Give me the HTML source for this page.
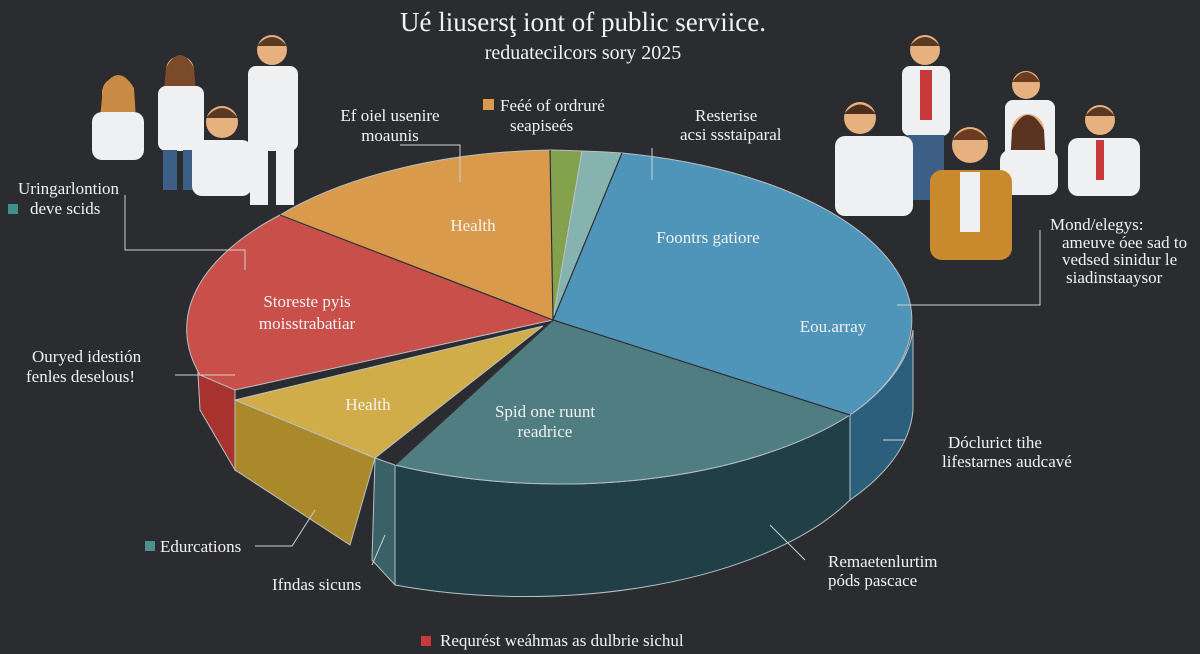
<!DOCTYPE html>
<html><head><meta charset="utf-8"><style>
html,body{margin:0;padding:0;background:#2a2c2f;}
svg{display:block}
text{font-family:"Liberation Serif",serif;fill:#f2f2f2}
</style></head><body>
<svg width="1200" height="654" viewBox="0 0 1200 654" xmlns="http://www.w3.org/2000/svg">
<rect width="1200" height="654" fill="#2a2c2f"/>
<text x="583" y="31" font-size="27" text-anchor="middle">Ué liusersţ iont of public serviice.</text>
<text x="583" y="59" font-size="20" text-anchor="middle">reduatecilcors sory 2025</text>

<g>
 <circle cx="118" cy="93" r="16" fill="#e7b07f"/><path d="M103,88 Q118,62 134,88 L136,120 L100,118Z" fill="#c98a45"/>
 <rect x="92" y="112" width="52" height="48" rx="10" fill="#eef0f2"/>
 <circle cx="180" cy="70" r="14" fill="#e7b07f"/><path d="M166,68 Q180,42 194,68 L196,92 L164,90Z" fill="#7a4a2a"/>
 <rect x="158" y="86" width="46" height="65" rx="8" fill="#eef0f2"/><rect x="163" y="150" width="14" height="40" fill="#3e5f85"/><rect x="183" y="150" width="14" height="40" fill="#3e5f85"/>
 <circle cx="272" cy="50" r="15" fill="#e7b07f"/><path d="M257,46 Q272,28 287,46Z" fill="#5a3a22"/>
 <rect x="248" y="66" width="50" height="85" rx="8" fill="#eef0f2"/><rect x="250" y="150" width="18" height="55" fill="#eef0f2"/><rect x="276" y="150" width="18" height="55" fill="#eef0f2"/>
 <circle cx="222" cy="122" r="16" fill="#e7b07f"/><path d="M206,118 Q222,98 238,118Z" fill="#5a3a22"/>
 <rect x="192" y="140" width="60" height="56" rx="10" fill="#eef0f2"/>
</g>
<g>
 <circle cx="925" cy="50" r="15" fill="#e7b07f"/><path d="M910,46 Q925,28 940,46Z" fill="#5a3a22"/>
 <rect x="902" y="66" width="48" height="70" rx="8" fill="#eef0f2"/><rect x="920" y="70" width="12" height="50" fill="#c9393a"/>
 <rect x="908" y="135" width="36" height="65" fill="#3e5f85"/>
 <circle cx="860" cy="118" r="16" fill="#e7b07f"/><path d="M844,114 Q860,95 876,114Z" fill="#4a2e1e"/>
 <rect x="835" y="136" width="78" height="80" rx="10" fill="#eef0f2"/>
 <circle cx="1026" cy="85" r="14" fill="#e7b07f"/><path d="M1012,82 Q1026,62 1040,82Z" fill="#6b3c22"/>
 <rect x="1005" y="100" width="50" height="60" rx="8" fill="#eef0f2"/>
 <circle cx="1100" cy="120" r="15" fill="#e7b07f"/><path d="M1085,116 Q1100,98 1115,116Z" fill="#5a3a22"/>
 <rect x="1068" y="138" width="72" height="58" rx="10" fill="#eef0f2"/><rect x="1096" y="140" width="8" height="40" fill="#c9393a"/>
 <circle cx="1028" cy="130" r="16" fill="#e7b07f"/><path d="M1012,130 Q1028,100 1044,130 L1046,165 L1010,165Z" fill="#5a3420"/>
 <rect x="1000" y="150" width="58" height="45" rx="10" fill="#eef0f2"/>
 <circle cx="970" cy="145" r="18" fill="#e7b07f"/><path d="M952,140 Q970,118 988,140Z" fill="#6b3c22"/>
 <rect x="930" y="170" width="82" height="90" rx="12" fill="#c98a2e"/><rect x="960" y="172" width="20" height="60" fill="#eef0f2"/>
</g>

<g stroke="#b9c0c4" stroke-width="1">
<path d="M395,465 A360,170 0 0 0 850,415 L850,500 A360,170 0 0 1 395,585 Z" fill="#203f46"/>
<path d="M850,415 A360,170 0 0 0 913,330 L913,410 A360,170 0 0 1 850,500 Z" fill="#2c5f7c"/>
<path d="M195,320 L235,390 L235,470 L200,410 Z" fill="#a8332e"/>
<path d="M235,400 L375,458 L350,545 L235,470 Z" fill="#a9892a"/>
<path d="M375,458 L395,465 L395,585 L372,560 Z" fill="#3a6068"/>

<path d="M553,320 L280,215 A360,170 0 0 1 550,150 Z" fill="#d99a4c"/>
<path d="M553,320 L550,150 A360,170 0 0 1 582,151 Z" fill="#84a24e"/>
<path d="M553,320 L582,151 A360,170 0 0 1 622,153 Z" fill="#86b3b0"/>
<path d="M553,320 L622,153 A360,170 0 0 1 850,415 Z" fill="#4f94b9"/>
<path d="M553,320 L850,415 A360,170 0 0 1 395,465 Z" fill="#4f7d82"/>
<path d="M553,320 L280,215 A360,170 0 0 0 200,375 L235,390 Z" fill="#c9504a"/>
<path d="M543,326 L235,400 L375,458 Z" fill="#d0ad48"/>
</g>
<g stroke="#2a2c2f" stroke-width="1.2" fill="none">
<path d="M553,320 L280,215 M553,320 L550,150 M553,320 L622,153 M553,320 L850,415 M553,320 L395,465"/>
</g>

<g font-size="17" text-anchor="middle">
<text x="473" y="231">Health</text>
<text x="708" y="243">Foontrs gatiore</text>
<text x="833" y="332">Eou.array</text>
<text x="307" y="307">Storeste pyis</text>
<text x="307" y="329">moisstrabatiar</text>
<text x="368" y="410">Health</text>
<text x="545" y="417">Spid one ruunt</text>
<text x="545" y="437">readrice</text>
</g>

<g stroke="#cfcfcf" stroke-width="1" fill="none">
<path d="M125,195 L125,250 L245,250 L245,270"/>
<path d="M400,145 L460,145 L460,182"/>
<path d="M652,148 L652,180"/>
<path d="M1040,230 L1040,305 L897,305"/>
<path d="M175,375 L235,375"/>
<path d="M883,440 L905,440"/>
<path d="M255,546 L292,546 L315,510"/>
<path d="M372,565 L385,535"/>
<path d="M770,525 L805,560"/>
</g>
<g font-size="17">
<text x="18" y="194">Uringarlontion</text>
<text x="30" y="214">deve scids</text>
<rect x="8" y="204" width="10" height="10" fill="#3f8f8a"/>
<text x="390" y="121" text-anchor="middle">Ef oiel usenire</text>
<text x="390" y="141" text-anchor="middle">moaunis</text>
<rect x="483" y="99" width="11" height="11" fill="#d99a4c"/>
<text x="500" y="111">Feéé of ordruré</text>
<text x="510" y="131">seapiseés</text>
<text x="695" y="121">Resterise</text>
<text x="680" y="140">acsi ssstaiparal</text>
<text x="1050" y="230">Mond/elegys:</text>
<text x="1062" y="248">ameuve óee sad to</text>
<text x="1062" y="265">vedsed sinidur le</text>
<text x="1066" y="283">siadinstaaysor</text>
<text x="32" y="362">Ouryed idestión</text>
<text x="26" y="382">fenles deselous!</text>
<text x="948" y="448">Dóclurict tihe</text>
<text x="942" y="467">lifestarnes audcavé</text>
<rect x="145" y="541" width="10" height="10" fill="#4f8f8f"/>
<text x="160" y="552">Edurcations</text>
<text x="272" y="590">Ifndas sicuns</text>
<text x="828" y="567">Remaetenlurtim</text>
<text x="828" y="586">póds  pascace</text>
<rect x="421" y="636" width="10" height="10" fill="#c9393a"/>
<text x="440" y="646">Requrést weáhmas as dulbrie sichul</text>
</g>
</svg>
</body></html>
